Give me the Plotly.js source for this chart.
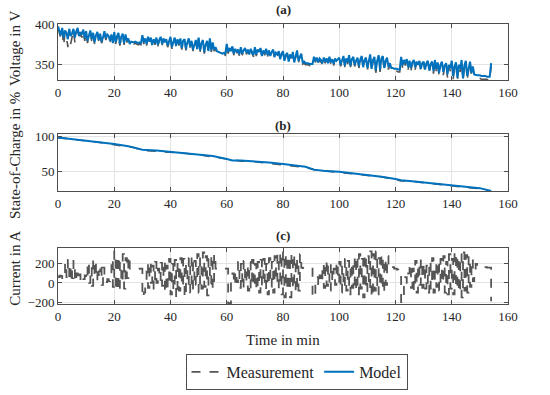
<!DOCTYPE html>
<html>
<head>
<meta charset="utf-8">
<script src="https://cdn.plot.ly/plotly-3.0.1.min.js"></script>
<style>html,body{margin:0;padding:0;background:#fff;}#chart{width:550px;height:395px;}</style>
</head>
<body>
<div id="chart"></div>
<script>
// time in min (0.5-min samples)
var timeMin = [0,0.5,1,1.5,2,2.5,3,3.5,4,4.5,5,5.5,6,6.5,7,7.5,8,8.5,9,9.5,
10,10.5,11,11.5,12,12.5,13,13.5,14,14.5,15,15.5,16,16.5,17,17.5,18,18.5,19,19.5,
20,20.5,21,21.5,22,22.5,23,23.5,24,24.5,25,25.5,26,26.5,27,27.5,28,28.5,29,29.5,
30,30.5,31,31.5,32,32.5,33,33.5,34,34.5,35,35.5,36,36.5,37,37.5,38,38.5,39,39.5,
40,40.5,41,41.5,42,42.5,43,43.5,44,44.5,45,45.5,46,46.5,47,47.5,48,48.5,49,49.5,
50,50.5,51,51.5,52,52.5,53,53.5,54,54.5,55,55.5,56,56.5,57,57.5,58,58.5,59,59.5,
60,60.5,61,61.5,62,62.5,63,63.5,64,64.5,65,65.5,66,66.5,67,67.5,68,68.5,69,69.5,
70,70.5,71,71.5,72,72.5,73,73.5,74,74.5,75,75.5,76,76.5,77,77.5,78,78.5,79,79.5,
80,80.5,81,81.5,82,82.5,83,83.5,84,84.5,85,85.5,86,86.5,87,87.5,88,88.5,89,89.5,
90,90.5,91,91.5,92,92.5,93,93.5,94,94.5,95,95.5,96,96.5,97,97.5,98,98.5,99,99.5,
100,100.5,101,101.5,102,102.5,103,103.5,104,104.5,105,105.5,106,106.5,107,107.5,108,108.5,109,109.5,
110,110.5,111,111.5,112,112.5,113,113.5,114,114.5,115,115.5,116,116.5,117,117.5,118,118.5,119,119.5,
120,120.5,121,121.5,122,122.5,123,123.5,124,124.5,125,125.5,126,126.5,127,127.5,128,128.5,129,129.5,
130,130.5,131,131.5,132,132.5,133,133.5,134,134.5,135,135.5,136,136.5,137,137.5,138,138.5,139,139.5,
140,140.5,141,141.5,142,142.5,143,143.5,144,144.5,145,145.5,146,146.5,147,147.5,148,148.5,149,149.5,
150,150.5,151,151.5,152,152.5,153,153.5,154];

// (a) voltage in V
var voltageModel = [398,392,387,396,384,393,390,382,395,386,
389,395,384,392,396,386,391,388,394,383,
392,380,388,393,382,390,378,387,391,381,
389,379,384,392,383,388,386,380,388,377,
391,378,386,390,376,385,389,377,388,380,
383,376,379,378,378,379,378,377,378,377,
387,378,383,376,385,379,384,375,382,377,
384,375,381,385,376,383,378,382,374,381,
385,372,380,384,374,382,376,383,371,380,
382,370,378,383,373,380,369,377,381,370,
384,368,377,381,366,375,380,367,383,368,
378,369,372,367,366,365,365,364,365,364,
376,366,371,367,373,364,370,366,369,363,
372,364,368,371,365,369,363,370,366,362,
372,363,369,366,371,361,368,364,370,362,
368,361,366,369,360,365,363,367,357,364,
367,355,362,365,354,363,358,366,353,360,
368,355,361,364,353,354,352,352,352,351,
351,351,360,355,359,353,358,356,352,359,
354,358,352,360,353,357,351,358,355,357,
359,350,356,361,349,358,353,362,349,357,
360,350,355,359,348,357,361,347,356,359,
346,357,363,345,356,360,343,355,362,344,
358,361,346,355,359,347,352,346,346,345,
345,345,344,344,360,349,356,352,357,347,
355,346,353,356,347,354,350,355,345,352,
354,344,352,355,343,351,354,342,356,345,
353,340,350,354,341,349,352,338,350,346,
355,336,348,353,334,350,345,356,333,349,
355,336,345,354,340,348,338,337,337,337,
337,336,336,336,336,335,335,335,352];
var voltageMeas = [396,389,383,392,374,390,386,372,393,376,
386,393,378,390,394,381,389,384,392,380,
390,377,386,391,379,388,376,385,389,379,
387,377,382,390,381,386,384,378,386,375,
389,376,384,388,374,383,387,375,386,378,
381,374,377,376,376,377,376,375,376,375,
386,376,382,374,384,377,383,373,381,375,
383,373,380,384,374,382,376,381,372,380,
384,370,379,383,372,381,374,382,369,379,
381,368,377,382,371,379,367,376,380,368,
383,366,376,380,364,374,379,365,382,366,
377,367,371,365,364,363,363,362,363,362,
375,364,370,365,372,362,369,364,368,361,
371,362,367,370,363,368,361,369,364,360,
371,361,368,364,370,359,367,362,369,360,
367,359,365,368,358,364,361,366,355,363,
366,353,361,364,352,362,356,365,351,359,
367,353,360,363,351,352,350,350,350,349,
349,349,359,353,358,351,357,354,350,358,
352,357,350,359,351,356,349,357,353,356,
358,348,355,360,347,357,351,361,347,356,
359,348,354,358,346,356,360,345,355,358,
343,356,362,342,355,359,340,354,361,341,
357,360,343,354,358,344,350,343,343,342,
342,342,341,341,358,346,355,349,356,344,
354,343,352,355,344,353,347,354,342,351,
353,341,351,354,340,350,353,339,355,342,
352,336,349,353,337,348,351,334,349,342,
354,332,347,352,330,349,341,355,330,348,
354,332,344,353,335,346,334,333,333,333,
333,332,332,332,332,332,331,331,348];

// (b) state of charge in %
var socTime = [0,5,10,15,20,25,27,30,35,40,45,50,55,60,62,65,70,75,80,85,88,91,95,100,105,110,115,120,122,125,130,135,140,145,150,154];
var socModel = [98,96,94,91,89,86,84,81,80,78,77,74,72,68,66,66,65,63,61,58,57,53,51,50,48,46,43,40,38,37,35,34,32,30,27,23];
var socMeas = [98,96,93,91,88,85,84,80,79,78,76,74,71,67,66,65,64,62,60,57,56,53,51,49,47,45,43,39,37,37,35,33,31,29,26,22];

// (c) current in A (measurement)
var currentMeas = [60,75,70,40,50,210,60,240,20,180,
50,230,10,100,30,90,20,60,40,80,
30,220,0,160,-30,250,60,200,10,120,
200,-20,160,50,10,40,20,50,250,-40,
330,-80,280,-90,220,0,300,-60,260,50,
280,150,150,150,150,150,145,145,150,150,
-150,-100,30,200,-50,220,0,180,-60,220,
0,150,20,210,-30,230,-100,180,-50,250,
-120,200,-80,240,-150,220,-80,260,-40,250,
-150,200,-30,260,-100,280,-60,230,-20,300,
-100,260,-60,320,-40,280,-130,250,-10,290,
-60,300,150,150,155,150,150,150,150,150,
150,-220,-210,20,100,-20,120,10,220,-50,
200,-60,230,0,180,-80,220,-60,240,-40,
200,-80,220,-100,240,-30,250,-70,200,-120,
260,-40,220,-100,280,0,300,-60,320,-120,
330,-150,300,-80,280,-150,310,-60,280,-100,
250,-80,300,160,155,155,160,160,150,150,
150,-150,-140,20,60,-30,80,0,200,-50,
230,-30,180,-80,200,20,150,-20,220,0,
220,-100,180,-50,250,-80,230,-120,200,-50,
260,-80,280,-120,300,-60,250,-150,300,-100,
280,-60,330,-150,300,-80,330,-120,260,-40,
300,-100,250,-20,280,150,160,165,165,150,
150,140,130,130,-200,-190,30,60,0,100,
200,-50,150,-80,230,-100,200,-20,250,-50,
200,-60,180,-100,230,-60,260,-100,200,-40,
230,-80,250,0,280,-100,220,-120,300,-60,
250,-120,330,-60,280,-100,300,-150,320,-80,
290,-100,280,-40,250,20,150,200,190,170,
170,170,165,165,165,160,160,160,-190];

var xTicks = [0,20,40,60,80,100,120,140,160];
var seriesNames = ['Measurement','Model'];

var FONT = 'Liberation Serif, Times New Roman, serif';
var BLUE = '#0072BD';
var GRAY = '#555555';
var TXT = '#262626';

var traces = [
  {x: timeMin, y: voltageMeas, xaxis:'x', yaxis:'y', mode:'lines', name: seriesNames[0], line:{color:GRAY, width:1.6, dash:'dash'}, showlegend:true},
  {x: timeMin, y: voltageModel, xaxis:'x', yaxis:'y', mode:'lines', name: seriesNames[1], line:{color:BLUE, width:2}, showlegend:true},
  {x: socTime, y: socMeas, xaxis:'x2', yaxis:'y2', mode:'lines', name: seriesNames[0], line:{color:GRAY, width:1.6, dash:'dash'}, showlegend:false},
  {x: socTime, y: socModel, xaxis:'x2', yaxis:'y2', mode:'lines', name: seriesNames[1], line:{color:BLUE, width:2}, showlegend:false},
  {x: timeMin, y: currentMeas, xaxis:'x3', yaxis:'y3', mode:'lines', name: seriesNames[0], line:{color:GRAY, width:1.8, dash:'dash', shape:'hv'}, showlegend:false}
];

function xax(anchor){
  return {anchor: anchor, domain:[0,1], range:[0,160], tickvals:xTicks, ticks:'inside', ticklen:4, tickcolor:'#4d4d4d',
    showline:true, linecolor:'#4d4d4d', linewidth:1, mirror:'ticks', showgrid:true, gridcolor:'#e3e3e3', zeroline:false,
    tickfont:{family:FONT, size:13, color:TXT}};
}
function yax(anchor, dom, rng, tv){
  return {anchor: anchor, domain:dom, range:rng, tickvals:tv, ticks:'inside', ticklen:4, tickcolor:'#4d4d4d',
    showline:true, linecolor:'#4d4d4d', linewidth:1, mirror:'ticks', showgrid:true, gridcolor:'#e3e3e3', zeroline:false,
    tickfont:{family:FONT, size:13, color:TXT}};
}
function ann(text, x, y, size, angle){
  var a = {text:text, xref:'paper', yref:'paper', x:x, y:y, xanchor:'center', yanchor:'middle', showarrow:false,
    font:{family:FONT, size:size, color:TXT}};
  if (angle) a.textangle = angle;
  return a;
}

var layout = {
  width:550, height:395,
  margin:{l:58, r:42, t:24, b:91, autoexpand:false},
  paper_bgcolor:'#fff', plot_bgcolor:'#fff',
  font:{family:FONT, color:TXT},
  xaxis: xax('y'),
  yaxis: yax('x', [0.8,1.0], [331,401], [350,400]),
  xaxis2: xax('y2'),
  yaxis2: yax('x2', [0.4036,0.607], [23,103], [50,100]),
  xaxis3: xax('y3'),
  yaxis3: yax('x3', [0,0.2], [-220,365], [-200,0,200]),
  showlegend:true,
  legend:{orientation:'h', x:0.53, xanchor:'center', y:-0.307, yanchor:'bottom', bordercolor:'#4d4d4d', borderwidth:1, bgcolor:'#fff',
    font:{family:FONT, size:16, color:TXT}, traceorder:'normal', itemwidth:30},
  annotations:[
    ann('<b>(a)</b>', 0.5, 1.05, 13),
    ann('<b>(b)</b>', 0.5, 0.639, 13),
    ann('<b>(c)</b>', 0.5, 0.246, 13),
    ann('Time in min', 0.5, -0.129, 15),
    ann('Voltage in V', -0.0956, 0.914, 15, -90),
    ann('State-of-Charge in %', -0.0956, 0.532, 15, -90),
    ann('Current in A', -0.0956, 0.129, 15, -90)
  ]
};

Plotly.newPlot('chart', traces, layout, {displayModeBar:false, staticPlot:true});
</script>
</body>
</html>
